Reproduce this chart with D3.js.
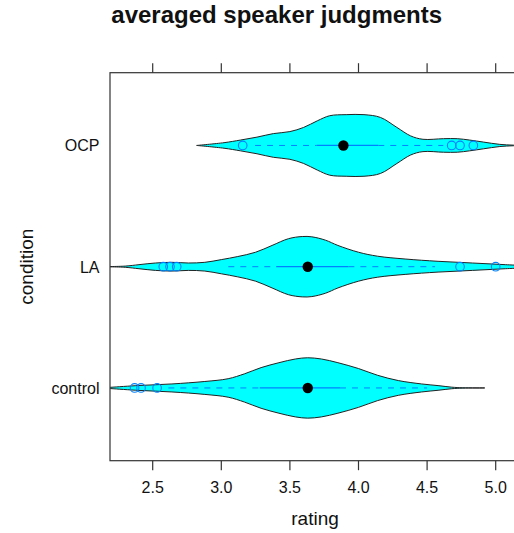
<!DOCTYPE html>
<html>
<head>
<meta charset="utf-8">
<script src="https://cdn.jsdelivr.net/npm/d3@7"></script>
<style>
  html, body { margin: 0; padding: 0; background: #fff; }
  svg { display: block; font-family: "Liberation Sans", Arial, Helvetica, sans-serif; }
</style>
</head>
<body>
<svg id="chart" width="514" height="533"></svg>
<script>
// Conditions, bottom to top
const conditions = ["control", "LA", "OCP"];
const xTicks = [2.5, 3.0, 3.5, 4.0, 4.5, 5.0];

// Kernel density profiles (rating, relative density)
const controlRating  = [2.12, 2.19, 2.40, 2.64, 2.88, 3.05, 3.17, 3.29, 3.42, 3.54, 3.63, 3.73, 3.85, 4.00, 4.14, 4.29, 4.46, 4.58, 4.68, 4.76, 4.92];
const controlDensity = [0.00, 0.02, 0.08, 0.13, 0.21, 0.30, 0.46, 0.66, 0.82, 0.94, 0.98, 0.94, 0.82, 0.63, 0.41, 0.24, 0.13, 0.076, 0.025, 0.006, 0.00];

const laRating  = [2.12, 2.30, 2.40, 2.52, 2.64, 2.76, 2.88, 3.00, 3.12, 3.25, 3.37, 3.49, 3.59, 3.66, 3.76, 3.85, 4.00, 4.14, 4.34, 4.58, 4.83, 5.07, 5.30];
const laDensity = [0.00, 0.02, 0.066, 0.12, 0.142, 0.12, 0.142, 0.23, 0.33, 0.47, 0.69, 0.91, 0.98, 0.97, 0.86, 0.69, 0.47, 0.34, 0.25, 0.175, 0.12, 0.066, 0.02];

const ocpRating  = [2.82, 3.02, 3.14, 3.26, 3.38, 3.50, 3.60, 3.70, 3.79, 3.91, 4.04, 4.16, 4.28, 4.38, 4.47, 4.62, 4.72, 4.81, 4.91, 5.03, 5.13, 5.25];
const ocpDensity = [0.00, 0.09, 0.175, 0.27, 0.385, 0.45, 0.585, 0.80, 0.965, 1.00, 1.00, 0.91, 0.585, 0.31, 0.20, 0.22, 0.22, 0.175, 0.11, 0.035, 0.01, 0.00];

// Box-and-whisker summaries, in condition order
const medians    = [3.63, 3.63, 3.89];
const boxLow     = [3.28, 3.40, 3.695];
const boxHigh    = [3.865, 3.926, 4.144];
const whiskerLow = [2.614, 3.051, 3.246];
const whiskerHigh= [4.50, 4.558, 4.618];
const controlOutliers = [2.368, 2.415, 2.532];
const laOutliers      = [2.577, 2.626, 2.675, 4.740, 5.000];
const ocpOutliers     = [3.156, 4.679, 4.740, 4.837];

const profiles = {
  control: { rating: controlRating, density: controlDensity, outliers: controlOutliers },
  LA:      { rating: laRating,      density: laDensity,      outliers: laOutliers },
  OCP:     { rating: ocpRating,     density: ocpDensity,     outliers: ocpOutliers }
};

const svg = d3.select("#chart");
const panel = { left: 110, top: 72.7, bottom: 460.7, right: 540 };

const x = d3.scaleLinear().domain([2.5, 5.0]).range([152.7, 495.7]);
const y = d3.scalePoint().domain(conditions).range([panel.bottom, panel.top]).padding(0.6);
const halfWidth = 30.8;
const w = d3.scaleLinear().domain([0, 1]).range([0, halfWidth]);

svg.append("defs").append("clipPath").attr("id", "panel-clip")
  .append("rect")
  .attr("x", panel.left).attr("y", panel.top)
  .attr("width", panel.right - panel.left).attr("height", panel.bottom - panel.top);

const plot = svg.append("g").attr("clip-path", "url(#panel-clip)");

conditions.forEach((c, i) => {
  const p = profiles[c];
  const cy = y(c);
  const pts = p.rating.map((r, k) => [r, p.density[k]]);
  const area = d3.area()
    .x(d => x(d[0]))
    .y0(d => cy - w(d[1]))
    .y1(d => cy + w(d[1]))
    .curve(d3.curveCatmullRom.alpha(0.5));

  const g = plot.append("g");
  g.append("path")
    .attr("d", area(pts))
    .attr("fill", "#00ffff")
    .attr("stroke", "#222")
    .attr("stroke-width", 1);

  // whiskers
  g.append("line")
    .attr("x1", x(whiskerLow[i])).attr("x2", x(boxLow[i]))
    .attr("y1", cy).attr("y2", cy)
    .attr("stroke", "#0080ff").attr("stroke-width", 1)
    .attr("stroke-dasharray", "6,6");
  g.append("line")
    .attr("x1", x(boxHigh[i])).attr("x2", x(whiskerHigh[i]))
    .attr("y1", cy).attr("y2", cy)
    .attr("stroke", "#0080ff").attr("stroke-width", 1)
    .attr("stroke-dasharray", "6,6");
  // box (collapsed to a line)
  g.append("line")
    .attr("x1", x(boxLow[i])).attr("x2", x(boxHigh[i]))
    .attr("y1", cy).attr("y2", cy)
    .attr("stroke", "#0080ff").attr("stroke-width", 1.2);

  // outliers
  g.selectAll("circle.out").data(p.outliers).enter().append("circle")
    .attr("class", "out")
    .attr("cx", d => x(d)).attr("cy", cy).attr("r", 4.3)
    .attr("fill", "none").attr("stroke", "#0080ff").attr("stroke-width", 1.1);

  // median
  g.append("circle")
    .attr("cx", x(medians[i])).attr("cy", cy).attr("r", 5.2)
    .attr("fill", "#000");
});

// panel border (left, top, bottom; right side lies past the visible area)
svg.append("rect")
  .attr("x", panel.left).attr("y", panel.top)
  .attr("width", panel.right - panel.left).attr("height", panel.bottom - panel.top)
  .attr("fill", "none").attr("stroke", "#333").attr("stroke-width", 1.2);

// x ticks, top and bottom
const tickLen = 9.5;
xTicks.forEach(t => {
  svg.append("line")
    .attr("x1", x(t)).attr("x2", x(t))
    .attr("y1", panel.top - tickLen).attr("y2", panel.top)
    .attr("stroke", "#333").attr("stroke-width", 1.2);
  svg.append("line")
    .attr("x1", x(t)).attr("x2", x(t))
    .attr("y1", panel.bottom).attr("y2", panel.bottom + tickLen)
    .attr("stroke", "#333").attr("stroke-width", 1.2);
  svg.append("text")
    .attr("x", x(t)).attr("y", 492.7)
    .attr("text-anchor", "middle")
    .attr("font-size", 16).attr("fill", "#111")
    .text(t.toFixed(1));
});

// category labels
conditions.forEach(c => {
  svg.append("text")
    .attr("x", 99.5).attr("y", y(c) + 5.8)
    .attr("text-anchor", "end")
    .attr("font-size", 16).attr("fill", "#111")
    .text(c);
});

// axis titles
svg.append("text")
  .attr("x", 315).attr("y", 525)
  .attr("text-anchor", "middle")
  .attr("font-size", 19).attr("fill", "#111")
  .text("rating");

svg.append("text")
  .attr("transform", "translate(32.5,266.7) rotate(-90)")
  .attr("text-anchor", "middle")
  .attr("font-size", 19).attr("fill", "#111")
  .text("condition");

// title
svg.append("text")
  .attr("x", 276.7).attr("y", 23.3)
  .attr("text-anchor", "middle")
  .attr("font-size", 24).attr("font-weight", "bold").attr("fill", "#111")
  .text("averaged speaker judgments");
</script>
</body>
</html>
